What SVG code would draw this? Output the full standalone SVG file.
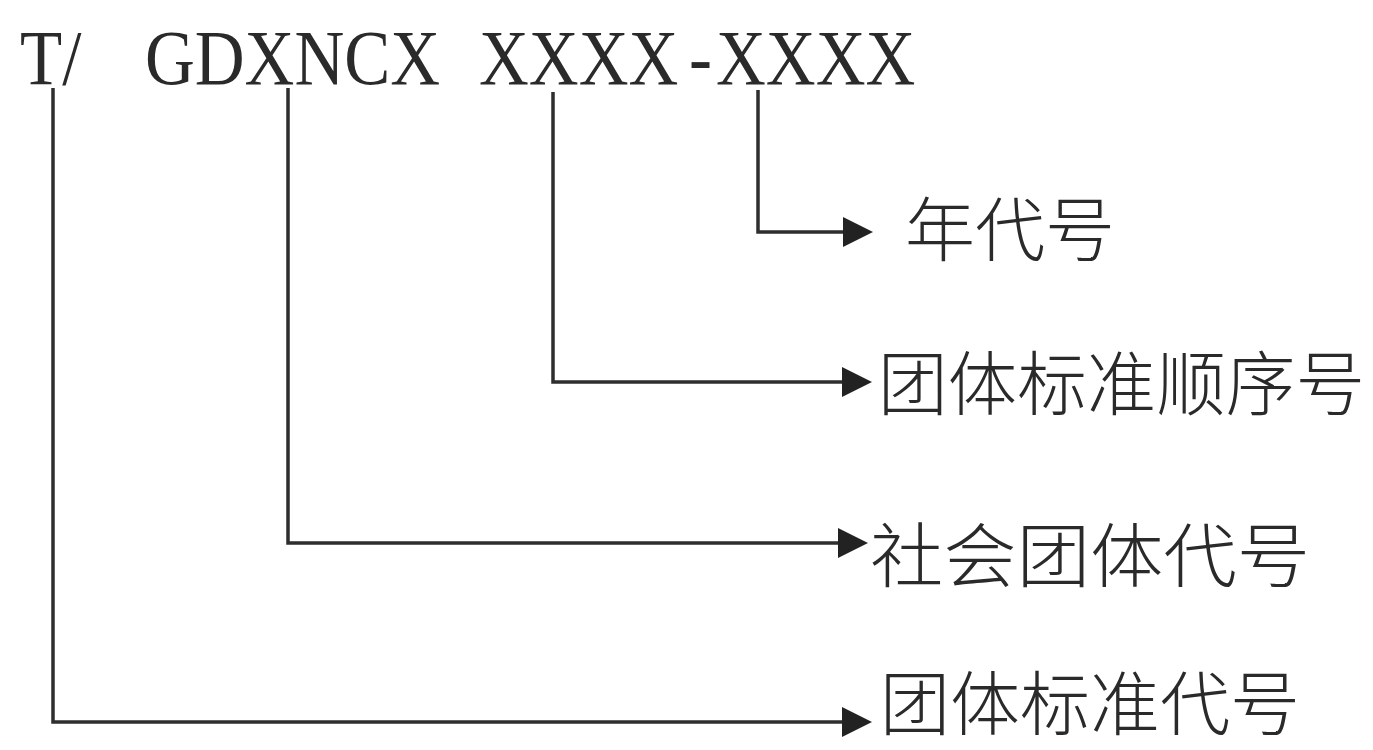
<svg xmlns="http://www.w3.org/2000/svg" width="1373" height="750" viewBox="0 0 1373 750">
<style>
.code{font-family:"Liberation Serif","Times New Roman",serif;font-size:69px;fill:#2a2a2a}
.lbl{font-family:"Noto Sans CJK SC","Noto Sans",sans-serif;font-size:70px;fill:#2a2a2a;font-weight:300}
.conn{fill:none;stroke:#2e2e2e;stroke-width:3.5}
</style>
<defs>
<marker id="arr" markerUnits="userSpaceOnUse" markerWidth="30" markerHeight="30" refX="3" refY="15" orient="auto">
<path d="M0,0 L30,15 L0,30 z" fill="#222"/>
</marker>
</defs>
<rect width="1373" height="750" fill="#ffffff"/>
<g id="code" transform="translate(0,84) scale(1,1.14)">
<text class="code" x="20" y="0">T/</text>
<text class="code" x="145" y="0">GDXNCX</text>
<text class="code" x="479" y="0">XXXX</text>
<text class="code" x="689" y="0">-</text>
<text class="code" x="716" y="0">XXXX</text>
</g>
<g id="connectors">
<path class="conn" d="M53,88 V722 H845" marker-end="url(#arr)"/>
<path class="conn" d="M288,88 V543 H841" marker-end="url(#arr)"/>
<path class="conn" d="M553,92 V382 H845" marker-end="url(#arr)"/>
<path class="conn" d="M758,90 V232 H846" marker-end="url(#arr)"/>
</g>
<g id="label-year"><text class="lbl" x="905" y="256" textLength="210" lengthAdjust="spacingAndGlyphs">年代号</text></g>
<g id="label-seq"><text class="lbl" x="878" y="410" textLength="487" lengthAdjust="spacingAndGlyphs">团体标准顺序号</text></g>
<g id="label-org"><text class="lbl" x="870" y="582" textLength="440" lengthAdjust="spacingAndGlyphs">社会团体代号</text></g>
<g id="label-std"><text class="lbl" x="880" y="730" textLength="420" lengthAdjust="spacingAndGlyphs">团体标准代号</text></g>
</svg>
